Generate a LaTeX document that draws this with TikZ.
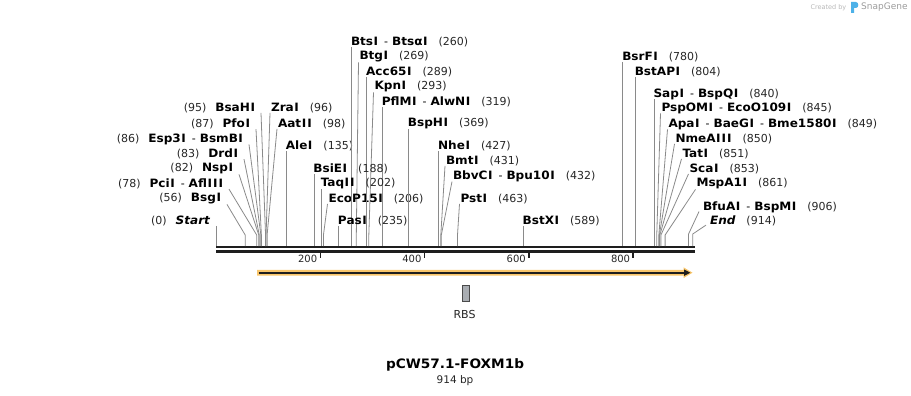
\documentclass[tikz,border=0pt]{standalone}
\usepackage{fontspec}
\setmainfont{DejaVu Sans}
\newfontfamily\bnfont[FakeStretch=1.05]{DejaVu Sans}
\usetikzlibrary{calc}
\definecolor{linec}{HTML}{8A8A8A}
\definecolor{numc}{HTML}{262626}
\definecolor{bbc}{HTML}{1E1E1E}
\definecolor{featc}{HTML}{F9C66B}
\definecolor{rbsc}{HTML}{A9ADB2}
\definecolor{rbsd}{HTML}{4A4A4A}
\definecolor{wmc}{HTML}{B8B8B8}
\definecolor{wmlogo}{HTML}{4DB1E8}
% slightly wider capital I in enzyme names (Verdana-like)
\newXeTeXintercharclass\wideIcls
\XeTeXcharclass`\I=\wideIcls
\XeTeXinterchartoks 0 \wideIcls = {\kern0.5pt}
\XeTeXinterchartoks \wideIcls 0 = {\kern0.5pt}
\XeTeXinterchartoks \wideIcls \wideIcls = {\kern1pt}
\newcommand\ename[1]{{\bnfont\bfseries\fontsize{11.5}{13}\selectfont\XeTeXinterchartokenstate=1 #1}}
\newcommand\esep{\hspace{6pt}-\hspace{4pt}}
\newcommand\snum[1]{\hspace{11pt}{\color{numc}(#1)}}
\newcommand\lnum[1]{{\color{numc}(#1)}\hspace{9pt}}
% right label, slanted connector: name, pos, text x, centre y, text
\newcommand\rsl[5]{%
  \node[lab,anchor=west] (#1) at (#3,#4) {#5};
  \coordinate (#1b) at ({216+0.5216*#2},246);
  \coordinate (#1k) at ({216+0.5216*#2},235);
  \draw[conn] ($(#1.south west)+(-1,0)$) -- (#1k) -- (#1b);}
% right label, vertical connector: name, pos, centre y, text
\newcommand\rvt[4]{%
  \node[lab,anchor=west] (#1) at ({216+0.5216*#2-0.6},#3) {#4};
  \coordinate (#1b) at ({216+0.5216*#2},246);
  \draw[conn] (#1b |- #1.south) -- (#1b);}
% left label, slanted connector: name, pos, text end x, centre y, text
\newcommand\lsl[5]{%
  \node[lab,anchor=east] (#1) at (#3,#4) {#5};
  \coordinate (#1b) at ({216+0.5216*#2},246);
  \coordinate (#1k) at ({216+0.5216*#2},235);
  \draw[conn] ($(#1.south east)+(6,0)$) -- (#1k) -- (#1b);}
\begin{document}
\begin{tikzpicture}[x=1pt,y=-1pt,
  lab/.style={inner sep=0pt, outer sep=0pt, font=\fontsize{11}{13}\selectfont, text=black},
  conn/.style={draw=linec, line width=0.8pt},
  bbline/.style={draw=bbc, line cap=butt},
  tickline/.style={draw=bbc, line width=1.6pt},
  ticklab/.style={inner sep=0pt, anchor=east, font=\fontsize{10}{12}\selectfont, text=numc}]
\useasboundingbox (0,0) rectangle (911,396);

% backbone
\coordinate (bbL) at (216,247.1);
\coordinate (bbR) at (695,247.1);
\draw[bbline, line width=2.4pt] (bbL) -- (bbR);
\draw[bbline, line width=2.6pt] ($(bbL)+(0,4.3)$) -- ($(bbR)+(0,4.3)$);

% ticks
\foreach \n in {200,400,600,800}{
  \coordinate (tk\n) at ({216+0.5216*\n},252);
  \draw[tickline] (tk\n) -- ++(0,6);
  \node[ticklab] (tl\n) at ($(tk\n)+(-3,7)$) {\n};
}

% left labels
\node[lab,anchor=east] (Start) at (210,221) {\lnum{0}\ename{\itshape Start}};
\coordinate (Startb) at (216,246);
\draw[conn] (Startb |- Start.south) -- (Startb);
\lsl{BsgI}{56}{221}{199}{\lnum{56}\ename{BsgI}}
\lsl{PciI}{78}{223}{184}{\lnum{78}\ename{PciI}\esep\ename{AflIII}}
\lsl{NspI}{82}{233}{169}{\lnum{82}\ename{NspI}}
\lsl{DrdI}{83}{238}{154}{\lnum{83}\ename{DrdI}}
\lsl{Esp3I}{86}{243}{139}{\lnum{86}\ename{Esp3I}\esep\ename{BsmBI}}
\lsl{PfoI}{87}{250}{124}{\lnum{87}\ename{PfoI}}
\lsl{BsaHI}{95}{255}{108}{\lnum{95}\ename{BsaHI}}

% right labels, slanted
\rsl{ZraI}{96}{271}{108}{\ename{ZraI}\snum{96}}
\rsl{AatII}{98}{278}{124}{\ename{AatII}\snum{98}}
\rsl{BtgI}{269}{359.5}{57}{\ename{BtgI}\snum{269}}
\rsl{KpnI}{293}{374.5}{87}{\ename{KpnI}\snum{293}}
\rsl{EcoP15I}{206}{328.5}{199}{\ename{EcoP15I}\snum{206}}
\rsl{BmtI}{431}{446}{161}{\ename{BmtI}\snum{431}}
\rsl{BbvCI}{432}{453}{176}{\ename{BbvCI}\esep\ename{Bpu10I}\snum{432}}
\rsl{PstI}{463}{460.5}{199}{\ename{PstI}\snum{463}}
\rsl{PspOMI}{845}{661.5}{108}{\ename{PspOMI}\esep\ename{EcoO109I}\snum{845}}
\rsl{ApaI}{849}{668.5}{124}{\ename{ApaI}\esep\ename{BaeGI}\esep\ename{Bme1580I}\snum{849}}
\rsl{NmeAIII}{850}{675.5}{139}{\ename{NmeAIII}\snum{850}}
\rsl{TatI}{851}{682.5}{154}{\ename{TatI}\snum{851}}
\rsl{ScaI}{853}{689.5}{169}{\ename{ScaI}\snum{853}}
\rsl{MspA1I}{861}{696.5}{184}{\ename{MspA1I}\snum{861}}

\node[lab,anchor=west] (BfuAI) at (703,207) {\ename{BfuAI}\esep\ename{BspMI}\snum{906}};
\coordinate (BfuAIb) at ({216+0.5216*906},246);
\coordinate (BfuAIk) at ({216+0.5216*906},234);
\draw[conn] ($(BfuAI.south west)+(-4,-1)$) -- (BfuAIk) -- (BfuAIb);
\node[lab,anchor=west] (End) at (710,221) {\ename{\itshape End}\snum{914}};
\coordinate (Endb) at ({216+0.5216*914},246);
\coordinate (Endk) at ({216+0.5216*914},234);
\draw[conn] ($(End.south west)+(-4,-1)$) -- (Endk) -- (Endb);

% right labels, vertical
\rvt{AleI}{135}{146}{\ename{AleI}\snum{135}}
\rvt{BtsI}{260}{42}{\ename{BtsI}\esep\ename{Btsα\kern0.5ptI}\snum{260}}
\rvt{Acc65I}{289}{72}{\ename{Acc65I}\snum{289}}
\rvt{PflMI}{319}{102}{\ename{PflMI}\esep\ename{AlwNI}\snum{319}}
\rvt{BspHI}{369}{124}{\ename{BspHI}\snum{369}}
\rvt{BsiEI}{188}{169}{\ename{BsiEI}\snum{188}}
\rvt{TaqII}{202}{184}{\ename{TaqII}\snum{202}}
\rvt{PasI}{235}{221}{\ename{PasI}\snum{235}}
\rvt{NheI}{427}{146}{\ename{NheI}\snum{427}}
\rvt{BstXI}{589}{221}{\ename{BstXI}\snum{589}}
\rvt{BsrFI}{780}{57}{\ename{BsrFI}\snum{780}}
\rvt{BstAPI}{804}{72}{\ename{BstAPI}\snum{804}}
\rvt{SapI}{840}{94}{\ename{SapI}\esep\ename{BspQI}\snum{840}}

% feature arrow
\coordinate (fs) at (257,272.7);
\coordinate (fe) at (692.5,272.7);
\fill[featc] (257,269.8) -- (683.5,269.8) -- (683.5,267.3) -- (fe) -- (683.5,278.1) -- (683.5,275.6) -- (257,275.6) -- cycle;
\draw[bbc, line width=1.8pt] (258.5,272.7) -- (685,272.7);
\fill[bbc] (684,269.4) -- (690.3,272.7) -- (684,276) -- cycle;

% RBS
\node[draw=rbsd, fill=rbsc, line width=0.9pt, minimum width=6.5pt, minimum height=16pt, inner sep=0pt] (rbs) at (465.8,293.3) {};
\node[inner sep=0pt, font=\fontsize{11}{13}\selectfont, text=numc] (rbslab) at (464.5,314) {RBS};

% title
\node[inner sep=0pt, font=\bnfont\bfseries\fontsize{13}{15}\selectfont] (title) at (455,365) {pCW57.1-FOXM1b};
\node[inner sep=0pt, font=\fontsize{10.5}{12}\selectfont, text=numc] (bp) at (455,381) {914 bp};

% watermark
\node[inner sep=0pt, anchor=east, font=\fontsize{6.5}{8}\selectfont, text=wmc] (wm1) at (846.5,7.5) {Created by};
\fill[wmlogo] (851,2) -- (856,2) .. controls (859,2) and (859,8) .. (856,8) -- (854,8) -- (854,13) -- (851,13) -- cycle;
\node[inner sep=0pt, anchor=west, font=\fontsize{9}{11}\selectfont, text=wmc!85!black] (wm2) at (861,7.5) {SnapGene};
\end{tikzpicture}
\end{document}
